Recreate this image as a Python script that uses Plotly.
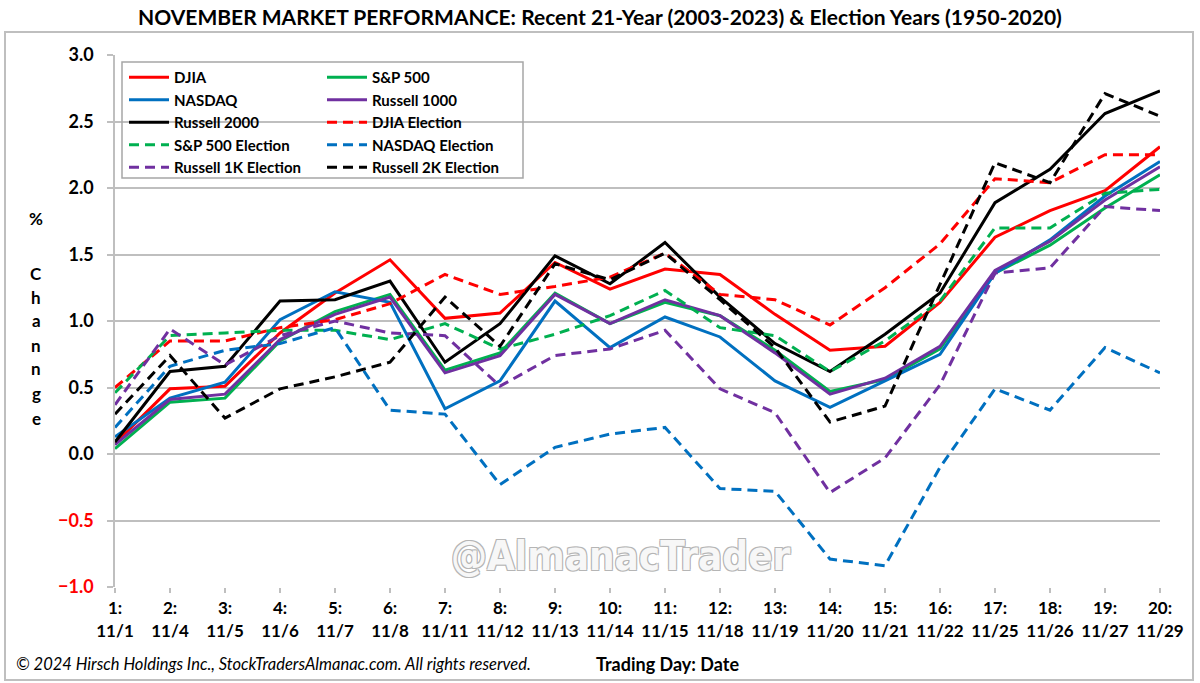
import plotly.graph_objects as go

# ---------------- data ----------------
days = list(range(1, 21))
dates = ["11/1", "11/4", "11/5", "11/6", "11/7", "11/8", "11/11", "11/12", "11/13", "11/14",
         "11/15", "11/18", "11/19", "11/20", "11/21", "11/22", "11/25", "11/26", "11/27", "11/29"]

djia = [0.08, 0.49, 0.51, 0.91, 1.21, 1.46, 1.02, 1.06, 1.44, 1.24,
        1.39, 1.35, 1.05, 0.78, 0.81, 1.14, 1.63, 1.83, 1.98, 2.31]
sp500 = [0.04, 0.39, 0.42, 0.85, 1.07, 1.20, 0.63, 0.76, 1.21, 0.98,
         1.14, 1.04, 0.78, 0.47, 0.56, 0.79, 1.36, 1.57, 1.85, 2.10]
nasdaq = [0.13, 0.42, 0.54, 1.01, 1.22, 1.14, 0.34, 0.55, 1.15, 0.80,
          1.03, 0.88, 0.55, 0.35, 0.55, 0.75, 1.36, 1.61, 1.94, 2.20]
russell1000 = [0.07, 0.41, 0.45, 0.86, 1.05, 1.18, 0.61, 0.74, 1.20, 0.98,
               1.16, 1.04, 0.76, 0.45, 0.57, 0.81, 1.38, 1.60, 1.91, 2.16]
russell2000 = [0.09, 0.62, 0.66, 1.15, 1.16, 1.30, 0.69, 0.98, 1.49, 1.28,
               1.59, 1.18, 0.83, 0.62, 0.90, 1.21, 1.89, 2.14, 2.56, 2.73]
djia_elec = [0.50, 0.85, 0.85, 0.95, 1.01, 1.13, 1.35, 1.20, 1.26, 1.33,
             1.51, 1.20, 1.16, 0.97, 1.25, 1.58, 2.07, 2.04, 2.25, 2.25]
sp500_elec = [0.46, 0.89, 0.91, 0.93, 0.93, 0.86, 0.98, 0.79, 0.90, 1.04,
              1.23, 0.95, 0.89, 0.62, 0.85, 1.15, 1.70, 1.70, 1.96, 1.99]
nasdaq_elec = [0.20, 0.66, 0.78, 0.83, 0.95, 0.33, 0.30, -0.23, 0.05, 0.15,
               0.20, -0.26, -0.28, -0.79, -0.84, -0.10, 0.49, 0.33, 0.80, 0.61]
r1k_elec = [0.37, 0.94, 0.67, 0.89, 1.00, 0.91, 0.89, 0.51, 0.74, 0.79,
            0.93, 0.49, 0.31, -0.29, -0.03, 0.52, 1.36, 1.40, 1.86, 1.83]
r2k_elec = [0.30, 0.74, 0.27, 0.49, 0.58, 0.69, 1.18, 0.81, 1.43, 1.31,
            1.51, 1.16, 0.80, 0.24, 0.36, 1.27, 2.19, 2.04, 2.71, 2.54]

ytick_vals = [-1.0, -0.5, 0.0, 0.5, 1.0, 1.5, 2.0, 2.5, 3.0]
xtick_text = [f"{d}:<br>{dt}" for d, dt in zip(days, dates)]

title_text = "NOVEMBER MARKET PERFORMANCE: Recent 21-Year (2003-2023) & Election Years (1950-2020)"
footer_text = "© 2024 Hirsch Holdings Inc., StockTradersAlmanac.com. All rights reserved."
xaxis_title = "Trading Day: Date"
yaxis_letters = ["%", "C", "h", "a", "n", "n", "g", "e"]
watermark = "@AlmanacTrader"

# ---------------- styling ----------------
RED = "#ff0000"
GREEN = "#00b050"
BLUE = "#0070c0"
PURPLE = "#7030a0"
BLACK = "#000000"
GRID = "#bfbfbf"
FONT = "Lato"
DASH = "10px,6px"

W, H = 1200, 683
L, R, T, B = 115, 40, 55, 96
PW, PH = W - L - R, H - T - B


def px(x):
    return (x - L) / PW


def py(y):
    return 1 - (y - T) / PH


series = [
    ("DJIA", djia, RED, "solid", "legend"),
    ("S&P 500", sp500, GREEN, "solid", "legend2"),
    ("NASDAQ", nasdaq, BLUE, "solid", "legend"),
    ("Russell 1000", russell1000, PURPLE, "solid", "legend2"),
    ("Russell 2000", russell2000, BLACK, "solid", "legend"),
    ("DJIA Election", djia_elec, RED, DASH, "legend2"),
    ("S&P 500 Election", sp500_elec, GREEN, DASH, "legend"),
    ("NASDAQ Election", nasdaq_elec, BLUE, DASH, "legend2"),
    ("Russell 1K Election", r1k_elec, PURPLE, DASH, "legend"),
    ("Russell 2K Election", r2k_elec, BLACK, DASH, "legend2"),
]

fig = go.Figure()
for name, vals, color, dash, leg in series:
    fig.add_trace(go.Scatter(
        x=days, y=vals, name=name, mode="lines",
        line=dict(color=color, width=3, dash=dash),
        legend=leg,
    ))

ytick_text = []
for v in ytick_vals:
    s = f"{abs(v):.1f}"
    if v < 0:
        ytick_text.append(f"<span style='color:#ff0000'>\u2212{s}</span>")
    else:
        ytick_text.append(s)

legend_common = dict(
    font=dict(family=FONT, size=15, color="#000000", weight="bold"),
    bgcolor="rgba(0,0,0,0)", borderwidth=0, orientation="v",
    xanchor="left", yanchor="top", tracegroupgap=0, itemwidth=40,
)

fig.update_layout(
    width=W, height=H,
    margin=dict(l=L, r=R, t=T, b=B),
    paper_bgcolor="white", plot_bgcolor="white",
    font=dict(family=FONT, color="#000000"),
    title=dict(text=title_text, x=0.5, xanchor="center", y=1 - 18 / H, yanchor="middle",
               font=dict(family=FONT, size=21, color="#000000", weight="bold")),
    legend=dict(x=px(124), y=py(61), **legend_common),
    legend2=dict(x=px(322), y=py(61), **legend_common),
    xaxis=dict(
        range=[1, 20], tickvals=days, ticktext=xtick_text,
        showgrid=False, zeroline=False,
        showline=False,
        ticks="outside", ticklen=5, tickcolor=GRID, tickwidth=1.5,
        ticklabelstandoff=1,
        tickfont=dict(family=FONT, size=17, color="#000000", weight="bold"),
        fixedrange=True,
    ),
    yaxis=dict(
        range=[-1, 3], tickvals=ytick_vals, ticktext=ytick_text,
        showgrid=True, gridcolor=GRID, gridwidth=1.5,
        zeroline=False, showline=True, linecolor=GRID, linewidth=1.5,
        ticks="outside", ticklen=6, tickcolor=GRID, tickwidth=1.5,
        ticklabelstandoff=10,
        tickfont=dict(family=FONT, size=18, color="#000000", weight="bold"),
        fixedrange=True,
    ),
    showlegend=True,
)

shapes = [
    # legend box
    dict(type="rect", xref="paper", yref="paper", x0=px(122), x1=px(523), y0=py(178), y1=py(62),
         line=dict(color="#a6a6a6", width=1.5), fillcolor="rgba(0,0,0,0)", layer="above"),
    # outer frame (below the title)
    dict(type="rect", xref="paper", yref="paper", x0=px(5), x1=px(1193), y0=py(680), y1=py(32),
         line=dict(color="#bfbfbf", width=2), fillcolor="rgba(0,0,0,0)", layer="below"),
]
fig.update_layout(shapes=shapes)

annotations = []
# y-axis title, stacked letters
letter_y = [218, 273, 297, 320, 345, 368, 393, 418]
for ch, yy in zip(yaxis_letters, letter_y):
    annotations.append(dict(text=ch, xref="paper", yref="paper", x=px(36), y=py(yy),
                            xanchor="center", yanchor="middle", showarrow=False,
                            font=dict(family=FONT, size=17, color="#000000", weight="bold")))
# watermark
annotations.append(dict(text=watermark, xref="paper", yref="paper", x=px(621), y=py(556),
                        xanchor="center", yanchor="middle", showarrow=False,
                        font=dict(family="DejaVu Sans Condensed, Liberation Sans", size=40,
                                  color="#f7f7f7", weight="bold",
                                  shadow="1px 1px 0 #b5b5b5, -1px -1px 0 #b5b5b5, 1px -1px 0 #b5b5b5, -1px 1px 0 #b5b5b5")))
# footer
annotations.append(dict(text=f"<i>{footer_text}</i>", xref="paper", yref="paper", x=px(14), y=py(664),
                        xanchor="left", yanchor="middle", showarrow=False,
                        font=dict(family=FONT, size=16.5, color="#000000")))
annotations.append(dict(text=xaxis_title, xref="paper", yref="paper", x=px(667), y=py(664),
                        xanchor="center", yanchor="middle", showarrow=False,
                        font=dict(family=FONT, size=18, color="#000000", weight="bold")))
fig.update_layout(annotations=annotations)

fig.write_html("out.html", config={"displayModeBar": False},
               post_script="document.body.style.margin='0px';")
